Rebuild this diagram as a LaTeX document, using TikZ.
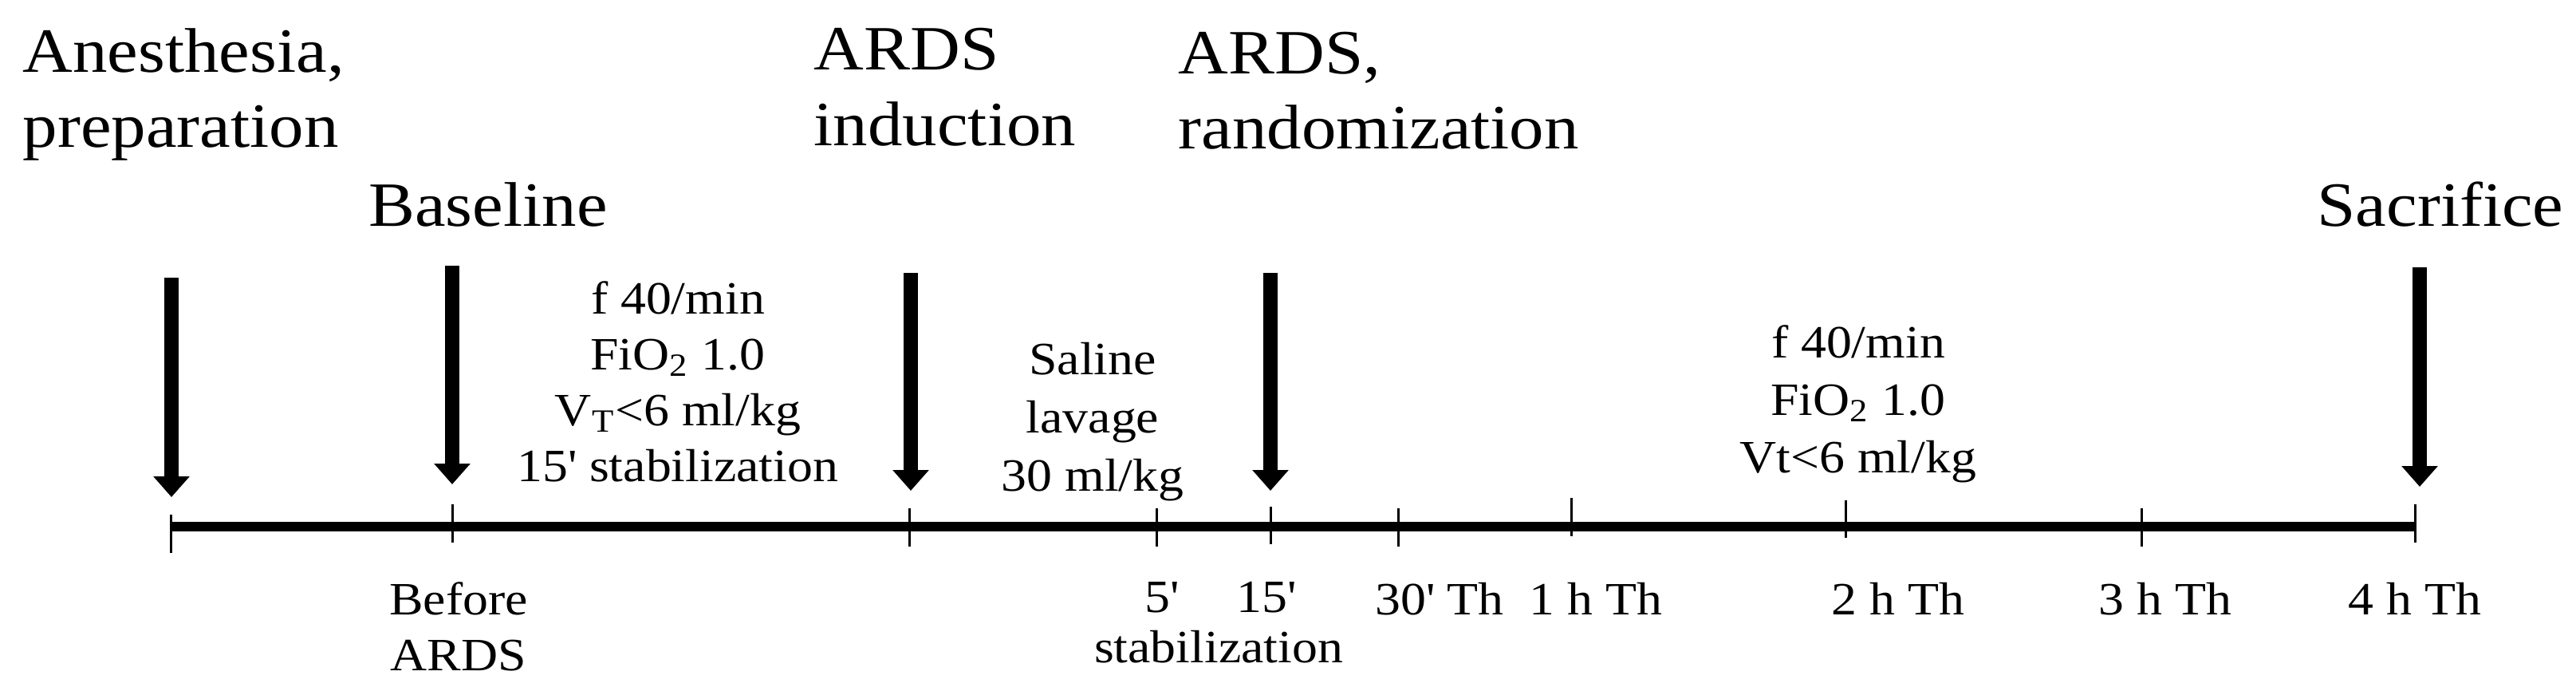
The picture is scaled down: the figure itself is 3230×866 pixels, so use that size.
\documentclass[tikz,border=0pt]{standalone}
\usepackage{fontspec}
\setmainfont{Liberation Serif}[FakeStretch=1.1]
\usetikzlibrary{arrows.meta}
\newcommand{\sq}{\textquotesingle}
\tikzset{
  bigtxt/.style={font=\fontsize{19.75}{23.75}\selectfont, inner sep=0pt},
  smalltxt/.style={font=\fontsize{14.5}{17.5}\selectfont, inner sep=0pt},
  tickmark/.style={line width=0.75pt},
  axisline/.style={line width=3pt},
  evarrow/.style={line width=4.5pt, -{Triangle[width=11pt,length=6.5pt]}},
}
\begin{document}
\begin{tikzpicture}[x=0.25pt,y=-0.25pt]
\useasboundingbox (0,0) rectangle (3230,866);
% timeline
\coordinate (t0) at (214,660);
\coordinate (tend) at (3028,660);
\draw[axisline] (t0) -- (tend);
% ticks
\foreach \x/\a/\b in {214/645/693, 567/632/680, 1140/637/685, 1450/637/685, 1593/635/682,
  1753/637/685, 1970/624/672, 2314/627/674, 2685/637/685, 3028/632/680}
  \draw[tickmark] (\x,\a) -- (\x,\b);
% arrows
\coordinate (a1s) at (215,348);  \coordinate (a1e) at (215,623);
\coordinate (a2s) at (567,333);  \coordinate (a2e) at (567,607);
\coordinate (a3s) at (1142,342); \coordinate (a3e) at (1142,615);
\coordinate (a4s) at (1593,342); \coordinate (a4e) at (1593,615);
\coordinate (a5s) at (3034,335); \coordinate (a5e) at (3034,610);
\draw[evarrow] (a1s) -- (a1e);
\draw[evarrow] (a2s) -- (a2e);
\draw[evarrow] (a3s) -- (a3e);
\draw[evarrow] (a4s) -- (a4e);
\draw[evarrow] (a5s) -- (a5e);
% big labels (base anchor = last line baseline)
\node[bigtxt, anchor=base west, align=left] (anes) at (28,185) {Anesthesia,\\preparation};
\node[bigtxt, anchor=base] (base) at (612,283) {Baseline};
\node[bigtxt, anchor=base west, align=left] (ind) at (1020,182) {ARDS\\induction};
\node[bigtxt, anchor=base west, align=left] (rand) at (1477,187) {ARDS,\\randomization};
\node[bigtxt, anchor=base] (sac) at (3060,283) {Sacrifice};
% settings
\node[smalltxt, anchor=base, align=center] (set1) at (850,603)
  {f 40/min\\FiO\textsubscript{2} 1.0\\V\textsubscript{T}<6 ml/kg\\15\sq{} stabilization};
\node[smalltxt, anchor=base, align=center, font=\fontsize{14.5}{18.25}\selectfont] (lav) at (1370,615)
  {Saline\\lavage\\30 ml/kg};
\node[smalltxt, anchor=base, align=center, font=\fontsize{14.5}{18}\selectfont] (set2) at (2330,592)
  {f 40/min\\FiO\textsubscript{2} 1.0\\Vt<6 ml/kg};
% bottom labels
\node[smalltxt, anchor=base, align=center] (bef) at (575,840) {Before\\ARDS};
\node[smalltxt, anchor=base] (m5) at (1457,767) {5\sq};
\node[smalltxt, anchor=base] (m15) at (1588,767) {15\sq};
\node[smalltxt, anchor=base] (stab) at (1528,830) {stabilization};
\node[smalltxt, anchor=base] (m30) at (1805,770) {30\sq{} Th};
\node[smalltxt, anchor=base] (h1) at (2001,770) {1 h Th};
\node[smalltxt, anchor=base] (h2) at (2380,770) {2 h Th};
\node[smalltxt, anchor=base] (h3) at (2715,770) {3 h Th};
\node[smalltxt, anchor=base] (h4) at (3028,770) {4 h Th};
\end{tikzpicture}
\end{document}
